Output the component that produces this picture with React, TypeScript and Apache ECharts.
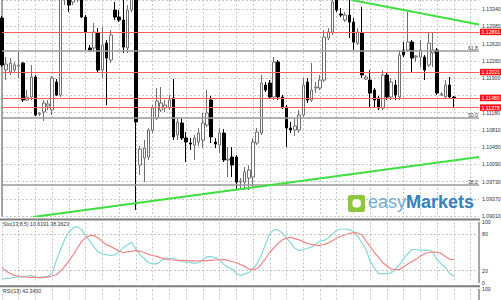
import React, { useEffect, useRef } from 'react';
import * as echarts from 'echarts';

// ---- data ----
const categories = Array.from({ length: 115 }, (_, i) => String(i));

// [open, close, low, high]
const candles: number[][] = [
  [1.13151, 1.12168, 1.12126, 1.13193],
  [1.12064, 1.12189, 1.11854, 1.12336],
  [1.12022, 1.12210, 1.11959, 1.12315],
  [1.12064, 1.12168, 1.12022, 1.12231],
  [1.12147, 1.12168, 1.11896, 1.12440],
  [1.12210, 1.11436, 1.11394, 1.12231],
  [1.11436, 1.11499, 1.11415, 1.11645],
  [1.11499, 1.11917, 1.11436, 1.12168],
  [1.11917, 1.11122, 1.11101, 1.11959],
  [1.11143, 1.11164, 1.11101, 1.11185],
  [1.11185, 1.11373, 1.10997, 1.11436],
  [1.11310, 1.11352, 1.11227, 1.11436],
  [1.11227, 1.11896, 1.11122, 1.11938],
  [1.11813, 1.11541, 1.11520, 1.11875],
  [1.11541, 1.13633, 1.11499, 1.13737],
  [1.13633, 1.13842, 1.13423, 1.14051],
  [1.13737, 1.13423, 1.13277, 1.13946],
  [1.13486, 1.13570, 1.13423, 1.13737],
  [1.13570, 1.13737, 1.13486, 1.13905],
  [1.13633, 1.13172, 1.13151, 1.13737],
  [1.13172, 1.12859, 1.12482, 1.13214],
  [1.12524, 1.12482, 1.12440, 1.12587],
  [1.12524, 1.12859, 1.12440, 1.13047],
  [1.12838, 1.12064, 1.12022, 1.12942],
  [1.12064, 1.12587, 1.11896, 1.12963],
  [1.12628, 1.12315, 1.11331, 1.12691],
  [1.12273, 1.12796, 1.12210, 1.12900],
  [1.13319, 1.13172, 1.13110, 1.13486],
  [1.13172, 1.13110, 1.13068, 1.13319],
  [1.13110, 1.12545, 1.12419, 1.13528],
  [1.12524, 1.13319, 1.12419, 1.13423],
  [1.13319, 1.13695, 1.13277, 1.13842],
  [1.13842, 1.10976, 1.09135, 1.13946],
  [1.10076, 1.10411, 1.09867, 1.10474],
  [1.10223, 1.10432, 1.09720, 1.10599],
  [1.10244, 1.10808, 1.10181, 1.10850],
  [1.10808, 1.11269, 1.10746, 1.11331],
  [1.11059, 1.11415, 1.11018, 1.11687],
  [1.11227, 1.11373, 1.11185, 1.11708],
  [1.11269, 1.11331, 1.11185, 1.11436],
  [1.11269, 1.11436, 1.11227, 1.11541],
  [1.11478, 1.10662, 1.10599, 1.11875],
  [1.10704, 1.10976, 1.10599, 1.11059],
  [1.10955, 1.10641, 1.10599, 1.11059],
  [1.10641, 1.10557, 1.10139, 1.10766],
  [1.10536, 1.10515, 1.10390, 1.10641],
  [1.10494, 1.10641, 1.10181, 1.10704],
  [1.10557, 1.10746, 1.10474, 1.10850],
  [1.10599, 1.10955, 1.10432, 1.11164],
  [1.10913, 1.11164, 1.10871, 1.11645],
  [1.11436, 1.10662, 1.10536, 1.11520],
  [1.10557, 1.10515, 1.10432, 1.10641],
  [1.10494, 1.10746, 1.10327, 1.10850],
  [1.10746, 1.10181, 1.10139, 1.10829],
  [1.10181, 1.10202, 1.09825, 1.10453],
  [1.10244, 1.10076, 1.09825, 1.10453],
  [1.10244, 1.09720, 1.09553, 1.10286],
  [1.09720, 1.09741, 1.09595, 1.09804],
  [1.09720, 1.09930, 1.09553, 1.10034],
  [1.09804, 1.09972, 1.09553, 1.10076],
  [1.09825, 1.10557, 1.09616, 1.10641],
  [1.10536, 1.10766, 1.10494, 1.10850],
  [1.10746, 1.11792, 1.10704, 1.11959],
  [1.11750, 1.11645, 1.11603, 1.11813],
  [1.11792, 1.11499, 1.11457, 1.11854],
  [1.11499, 1.12231, 1.11436, 1.12336],
  [1.12231, 1.11499, 1.11436, 1.12273],
  [1.11499, 1.11290, 1.11248, 1.11541],
  [1.11290, 1.10850, 1.10453, 1.11331],
  [1.10850, 1.10808, 1.10746, 1.10976],
  [1.10808, 1.10892, 1.10683, 1.11059],
  [1.10808, 1.11122, 1.10746, 1.11227],
  [1.11122, 1.11750, 1.11080, 1.11896],
  [1.11813, 1.11436, 1.11373, 1.11896],
  [1.11436, 1.11645, 1.11394, 1.12210],
  [1.11687, 1.11708, 1.11582, 1.11813],
  [1.11687, 1.11854, 1.11645, 1.11959],
  [1.11854, 1.12754, 1.11813, 1.12900],
  [1.12733, 1.12859, 1.12691, 1.12942],
  [1.12859, 1.13486, 1.12796, 1.13591],
  [1.13528, 1.13319, 1.13277, 1.13633],
  [1.13235, 1.13214, 1.13172, 1.13361],
  [1.13110, 1.13214, 1.13068, 1.13277],
  [1.13214, 1.13068, 1.12733, 1.13549],
  [1.13068, 1.12649, 1.12482, 1.13151],
  [1.12628, 1.12859, 1.12587, 1.12942],
  [1.12838, 1.11959, 1.11896, 1.13382],
  [1.11875, 1.11917, 1.11854, 1.11959],
  [1.11854, 1.11582, 1.11269, 1.12064],
  [1.11645, 1.11436, 1.11269, 1.11687],
  [1.11478, 1.11269, 1.11227, 1.11520],
  [1.11269, 1.11959, 1.11227, 1.12064],
  [1.11959, 1.11499, 1.11436, 1.12022],
  [1.11499, 1.11813, 1.11436, 1.11896],
  [1.11750, 1.11541, 1.11436, 1.11854],
  [1.11499, 1.12377, 1.11436, 1.12482],
  [1.12482, 1.12377, 1.12336, 1.12649],
  [1.12482, 1.12649, 1.12440, 1.13277],
  [1.12649, 1.12315, 1.12022, 1.12691],
  [1.12336, 1.12356, 1.12231, 1.12377],
  [1.12336, 1.12482, 1.12126, 1.12691],
  [1.12336, 1.12064, 1.11854, 1.12377],
  [1.12168, 1.12628, 1.12126, 1.12838],
  [1.12419, 1.12482, 1.12126, 1.12859],
  [1.12482, 1.11582, 1.11541, 1.12524],
  [1.11541, 1.11561, 1.11520, 1.11603],
  [1.11499, 1.11750, 1.11478, 1.11854],
  [1.11750, 1.11499, 1.11457, 1.11917],
  [1.11499, 1.11478, 1.11269, 1.11520],
];

const stochK: number[] = [
  6, 7, 7.5, 8.5, 9.5, 10, 11, 11.5, 9, 7.5,
  9, 11, 16, 37, 55, 72, 84, 91, 93, 88,
  78, 69, 59, 51, 48, 46, 45, 46, 51, 58,
  63, 67, 56, 46, 40, 33, 31, 31, 36, 41,
  40, 40, 37, 35, 34, 33, 32, 33, 38, 43,
  43, 41, 38, 30, 25, 23, 15, 12, 14, 17,
  22, 32, 46, 64, 81, 88, 88, 82, 74, 66,
  57, 53, 55, 57, 59, 64, 69, 70, 74, 81,
  87, 89, 89, 88, 85, 77, 66, 55, 35, 24,
  15, 15, 15, 16, 22, 30, 40, 48, 55, 55,
  54, 54, 54, 50, 38, 31, 25, 15, 10.6,
];

const stochD: number[] = [
  25, 19, 15, 12, 10.5, 9.5, 9, 8.7, 8.7, 8.8,
  9, 9.2, 11, 13, 19, 27, 36, 46, 57, 68,
  75, 78, 78, 74, 68, 63, 60, 56, 52, 50,
  51, 52, 53.5, 52, 50, 47, 45, 43.6, 41, 39,
  38, 37.5, 37, 37, 36.5, 36, 36, 36, 36, 36.5,
  37, 37.5, 38, 38.5, 37, 35, 33, 30, 27, 22,
  22, 23, 31, 40, 50, 58, 65, 71, 74, 75,
  73, 71, 68, 65, 63, 62, 62, 63, 66, 70,
  74, 77, 79.5, 81.5, 83, 82.5, 79.5, 69, 60, 50,
  42, 33, 28, 23, 21.5, 22, 26, 31, 35, 39,
  44, 48, 50, 51, 50, 48.5, 43, 39, 38.4,
];

// visible price tick labels (the one at 1.11540 sits under the red 1.11480 tag)
const priceTickLabels = [
  '1.09010', '1.09370', '1.09730', '1.10090', '1.10450', '1.10810', '1.11180',
  '1.11900', '1.12260', '1.12620', '1.12980', '1.13340',
];
const priceMin = 1.0901;
const priceMax = 1.13529;
const priceStep = 0.0036083;
const redLevels = [1.12861, 1.12021, 1.1148, 1.11278];
const fibLevels = [
  { value: 1.12461, name: '61.8' },
  { value: 1.11059, name: '50.0' },
  { value: 1.09658, name: '38.2' },
];
const upperTrend = [[83.6, 1.13528], [114, 1.13015]];
const lowerTrend = [[7.4, 1.08988], [114, 1.10244]];
const stochLevels = [20, 80];
const stochTickLabels = [0, 20, 80, 100];
const rsiTickLabels = [100];
const stochTitle = 'Sto(13,8,5) 10.6191 38.3623';
const rsiTitle = 'RSI(13) 42.3430';

const FONT = "'Liberation Sans Narrow', 'Liberation Sans', Arial, sans-serif";
const GRID_DASH = { type: [2, 2] as any, color: '#c8c8c8', width: 1 };

function priceFormatter(v: number) {
  let best = '';
  let bd = 1;
  for (const s of priceTickLabels) {
    const d = Math.abs(parseFloat(s) - Number(v));
    if (d < bd) {
      bd = d;
      best = s;
    }
  }
  return bd < 0.0002 ? best : '';
}
function levelFormatter(list: number[]) {
  return (val: number) => {
    const v = Number(val);
    const r = Math.round(v);
    return Math.abs(v - r) < 0.01 && list.includes(r) ? String(r) : '';
  };
}

function catAxis(gridIndex: number) {
  return {
    type: 'category',
    gridIndex,
    data: categories,
    boundaryGap: false,
    axisLine: { show: false },
    axisTick: { show: false },
    axisLabel: { show: false },
    splitLine: { show: true, interval: 3, lineStyle: GRID_DASH },
  };
}

export default function App() {
  const ref = useRef<HTMLDivElement>(null);
  useEffect(() => {
    document.body.style.margin = '0';
    const chart = echarts.init(ref.current!, undefined, { renderer: 'svg' });
    const labelBase = { fontSize: 5.2, fontFamily: FONT, color: '#333' };
    const axisLine = { show: true, lineStyle: { color: '#888', width: 1.5 } };
    const option: any = {
      animation: false,
      backgroundColor: '#ffffff',
      grid: [
        { left: 2, right: 22, top: 0, height: 216, outerBoundsMode: 'none' },
        { left: 2, right: 22, top: 222.4, height: 60.2, outerBoundsMode: 'none' },
        { left: 2, right: 22, top: 289.4, height: 60.2, outerBoundsMode: 'none' },
      ],
      xAxis: [
        catAxis(0),
        catAxis(1),
        catAxis(2),
        { type: 'value', gridIndex: 0, min: 0, max: 114, show: false },
      ],
      yAxis: [
        {
          type: 'value',
          gridIndex: 0,
          position: 'right',
          min: priceMin,
          max: priceMax,
          interval: priceStep,
          axisLine,
          axisTick: { show: false },
          axisLabel: { ...labelBase, margin: 3, formatter: priceFormatter },
          splitLine: { show: true, lineStyle: GRID_DASH },
        },
        {
          type: 'value',
          gridIndex: 1,
          position: 'right',
          min: 0,
          max: 100,
          interval: 20,
          axisLine,
          axisTick: { show: false },
          axisLabel: { ...labelBase, margin: 3, formatter: levelFormatter(stochTickLabels) },
          splitLine: { show: false },
        },
        {
          type: 'value',
          gridIndex: 2,
          position: 'right',
          min: 0,
          max: 100,
          interval: 20,
          axisLine,
          axisTick: { show: false },
          axisLabel: { ...labelBase, margin: 3, formatter: levelFormatter(rsiTickLabels) },
          splitLine: { show: false },
        },
      ],
      series: [
        {
          type: 'candlestick',
          xAxisIndex: 0,
          yAxisIndex: 0,
          data: candles,
          barWidth: 3,
          clip: true,
          itemStyle: {
            color: '#ffffff',
            color0: '#000000',
            borderColor: '#707070',
            borderColor0: '#000000',
            borderWidth: 1,
          },
          markLine: {
            silent: true,
            precision: 5,
            symbol: ['none', 'none'],
            animation: false,
            data: [
              ...fibLevels.map((f) => ({
                yAxis: f.value,
                lineStyle: { color: '#9a9a9a', width: 1.6, type: 'solid' },
                label: {
                  show: true,
                  position: 'insideEndTop',
                  distance: 1,
                  formatter: f.name,
                  color: '#444',
                  fontSize: 5.2,
                  fontFamily: FONT,
                },
              })),
              ...redLevels.map((v) => ({
                yAxis: v,
                lineStyle: { color: '#ff5c5c', width: 1, type: 'solid' },
                label: {
                  show: true,
                  position: 'end',
                  distance: 1,
                  formatter: v.toFixed(5),
                  color: '#ffffff',
                  backgroundColor: '#ff1010',
                  padding: [1, 1.5, 0.5, 1.5],
                  fontSize: 5.2,
                  fontFamily: FONT,
                },
              })),
            ],
          },
        },
        {
          type: 'line',
          xAxisIndex: 3,
          yAxisIndex: 0,
          data: upperTrend,
          symbol: 'none',
          lineStyle: { color: '#3fe03f', width: 2 },
          z: 5,
        },
        {
          type: 'line',
          xAxisIndex: 3,
          yAxisIndex: 0,
          data: lowerTrend,
          symbol: 'none',
          lineStyle: { color: '#3fe03f', width: 2 },
          z: 5,
        },
        {
          type: 'line',
          xAxisIndex: 1,
          yAxisIndex: 1,
          data: stochK,
          symbol: 'none',
          lineStyle: { color: '#86d8d8', width: 1.2 },
          markLine: {
            silent: true,
            symbol: ['none', 'none'],
            label: { show: false },
            lineStyle: { color: '#c4c4c4', type: [2, 2], width: 1 },
            data: stochLevels.map((v) => ({ yAxis: v })),
          },
        },
        {
          type: 'line',
          xAxisIndex: 1,
          yAxisIndex: 1,
          data: stochD,
          symbol: 'none',
          lineStyle: { color: '#f58585', width: 1.2 },
        },
        {
          type: 'line',
          xAxisIndex: 2,
          yAxisIndex: 2,
          data: [],
          symbol: 'none',
        },
      ],
      graphic: [
        {
          type: 'line',
          z: 100,
          shape: { x1: 0, y1: 219.5, x2: 480, y2: 219.5 },
          style: { stroke: '#7c7c7c', lineWidth: 2 },
        },
        {
          type: 'line',
          z: 100,
          shape: { x1: 0, y1: 286.2, x2: 480, y2: 286.2 },
          style: { stroke: '#7c7c7c', lineWidth: 2 },
        },
        {
          type: 'text',
          x: 3,
          y: 224,
          z: 100,
          style: { text: stochTitle, fontSize: 5.2, fontFamily: FONT, fill: '#333', verticalAlign: 'middle' },
        },
        {
          type: 'text',
          x: 3,
          y: 290.5,
          z: 100,
          style: { text: rsiTitle, fontSize: 5.2, fontFamily: FONT, fill: '#333', verticalAlign: 'middle' },
        },
        {
          type: 'rect',
          z: 100,
          shape: { x: 348, y: 195, width: 17, height: 17, r: 2 },
          style: { fill: '#8dc63f' },
        },
        {
          type: 'rect',
          z: 101,
          shape: { x: 352.5, y: 199.3, width: 8.3, height: 8.3, r: 3 },
          style: { fill: '#ffffff' },
        },
        {
          type: 'text',
          x: 368,
          y: 201.5,
          z: 100,
          style: {
            text: '{a|easy}{b|Markets}',
            verticalAlign: 'middle',
            rich: {
              a: { fontSize: 18, fontFamily: "'Liberation Sans', Arial, sans-serif", fill: '#74abd3' },
              b: { fontSize: 18, fontFamily: "'Liberation Sans', Arial, sans-serif", fontWeight: 'bold', fill: '#3482bc' },
            },
          },
        },
      ],
    };
    chart.setOption(option);
    return () => chart.dispose();
  }, []);
  return <div ref={ref} style={{ width: 501, height: 300 }} />;
}
